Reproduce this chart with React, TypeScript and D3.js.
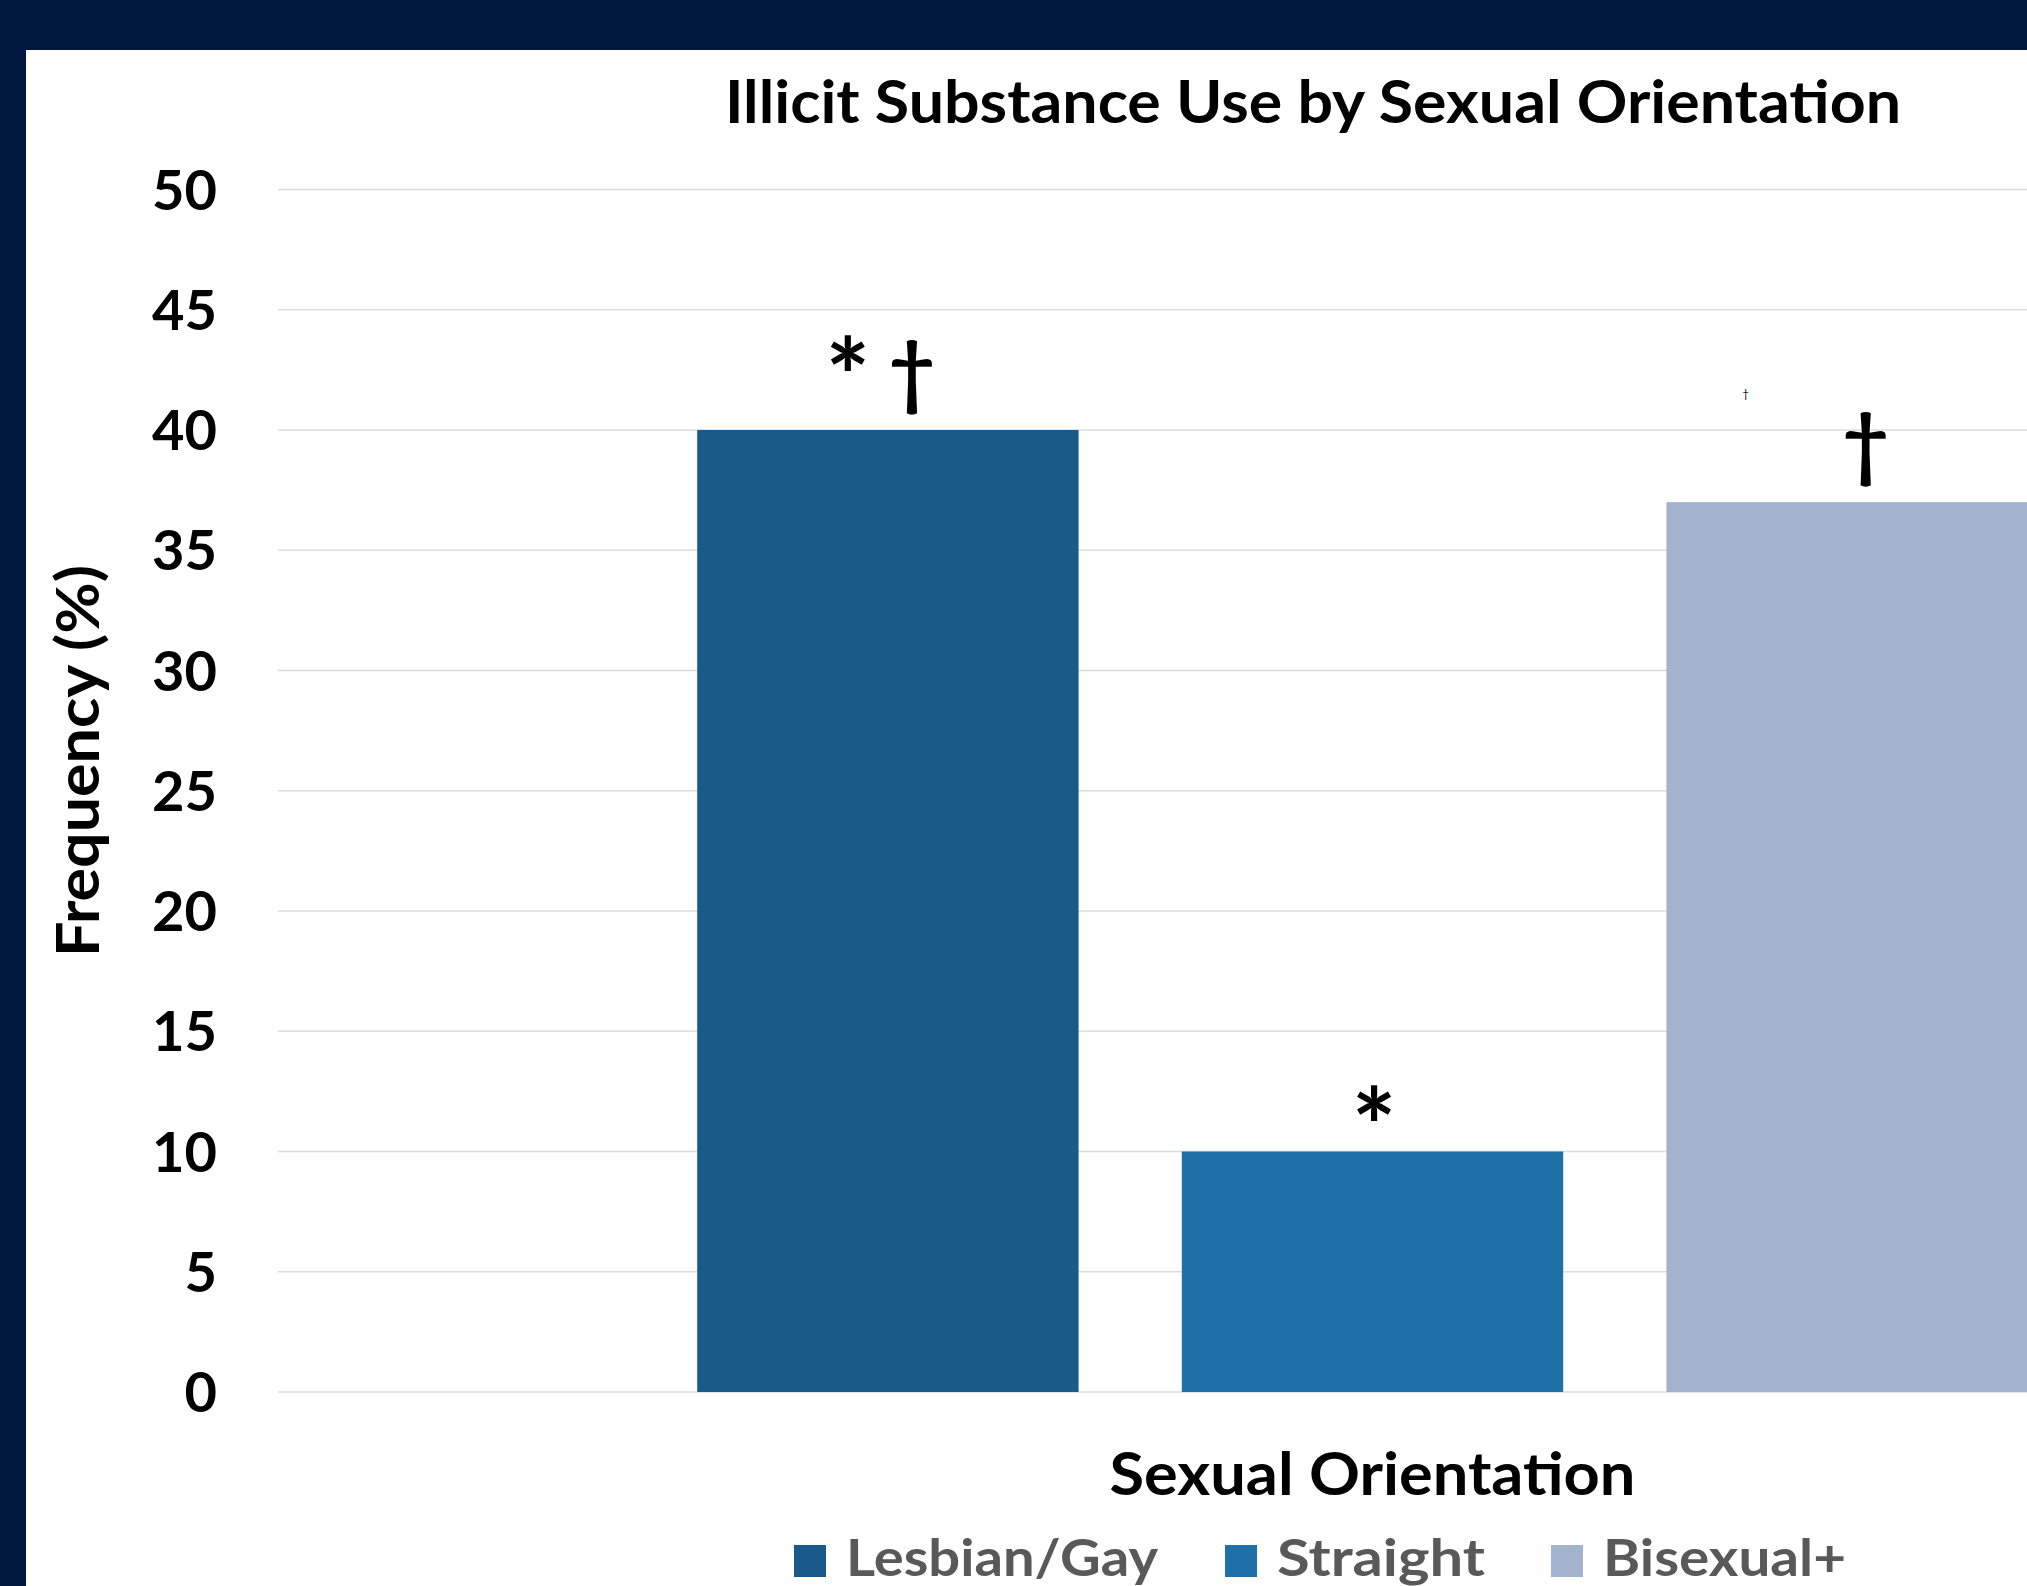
import React from 'react';
import * as d3 from 'd3';

// ---------- data ----------
const chartTitle = 'Illicit Substance Use by Sexual Orientation';
const yAxisTitle = 'Frequency (%)';
const xAxisTitle = 'Sexual Orientation';
const seriesNames = ['Lesbian/Gay', 'Straight', 'Bisexual+'];
const seriesValues = [40, 10, 37];
const yTicks = [0, 5, 10, 15, 20, 25, 30, 35, 40, 45, 50];
const seriesMarks = [['*', '†'], ['*'], ['†']];

// ---------- styles ----------
const W = 2027;
const H = 1586;
const NAVY = '#00173F';
const seriesColors = ['#1A5A8A', '#1F6FA9', '#A3B3CE'];
const FONT = 'Lato, "Open Sans", "DejaVu Sans", sans-serif';
const plot = { left: 278, right: 2467, top: 189.5, bottom: 1392 };
// offsets for the significance marks (dx from bar centre, dy from bar top to glyph baseline)
const markStyle = [
  [{ dx: -40, dy: -15, size: 105 }, { dx: 24, dy: -30, size: 80 }],
  [{ dx: 1.5, dy: 13, size: 105 }],
  [{ dx: 8.5, dy: -30, size: 80 }],
];
const legendStyle = [
  { x: 794, w: 312 },
  { x: 1225, w: 208 },
  { x: 1551, w: 243 },
];

export default function App() {
  const y = d3.scaleLinear().domain([0, 50]).range([plot.bottom, plot.top]);
  const x = d3
    .scaleBand<string>()
    .domain(seriesNames)
    .range([plot.left, plot.right])
    .paddingInner(0.213)
    .paddingOuter(0.865);

  return (
    <svg
      width={W}
      height={H}
      style={{ position: 'absolute', left: 0, top: 0, display: 'block' }}
      fontFamily={FONT}
    >
      <defs>
        <clipPath id="clip">
          <rect x={26} y={50} width={W - 26} height={H - 50} />
        </clipPath>
      </defs>
      <rect x={0} y={0} width={W} height={H} fill={NAVY} />
      <rect x={26} y={50} width={W - 26} height={H - 50} fill="#ffffff" />

      <g clipPath="url(#clip)">
        {/* gridlines */}
        {yTicks.map((t) => (
          <line
            key={'g' + t}
            x1={plot.left}
            x2={plot.right}
            y1={y(t)}
            y2={y(t)}
            stroke="#DCDCDC"
            strokeWidth={1.5}
          />
        ))}
        {/* y tick labels */}
        {yTicks.map((t) => (
          <text
            key={'t' + t}
            x={217}
            y={y(t) + 20}
            textAnchor="end"
            fontSize={56}
            fontWeight={700}
            fill="#000"
          >
            {t}
          </text>
        ))}
        {/* bars */}
        {seriesNames.map((s, i) => (
          <rect
            key={s}
            x={x(s)}
            y={y(seriesValues[i])}
            width={x.bandwidth()}
            height={y(0) - y(seriesValues[i])}
            fill={seriesColors[i]}
          />
        ))}
        {/* marks */}
        {seriesNames.map((s, i) =>
          seriesMarks[i].map((m, j) => {
            const st = markStyle[i][j];
            return (
              <text
                key={s + j}
                x={(x(s) as number) + x.bandwidth() / 2 + st.dx}
                y={y(seriesValues[i]) + st.dy}
                textAnchor="middle"
                fontSize={st.size}
                fontWeight={700}
                fill="#000"
              >
                {m}
              </text>
            );
          })
        )}
        <text
          x={(x('Bisexual+') as number) + x.bandwidth() / 2 - 111.5}
          y={398}
          textAnchor="middle"
          fontSize={11}
          fill="#000"
        >
          †
        </text>

        {/* title */}
        <text
          x={1313}
          y={123}
          textAnchor="middle"
          fontSize={59}
          fontWeight={700}
          textLength={1176}
          lengthAdjust="spacingAndGlyphs"
          fill="#000"
        >
          {chartTitle}
        </text>
        {/* y axis title */}
        <text
          transform={`translate(99, 761) rotate(-90)`}
          textAnchor="middle"
          fontSize={60}
          fontWeight={700}
          textLength={392}
          lengthAdjust="spacingAndGlyphs"
          fill="#000"
        >
          {yAxisTitle}
        </text>
        {/* x axis title */}
        <text
          x={(plot.left + plot.right) / 2}
          y={1495}
          textAnchor="middle"
          fontSize={60}
          fontWeight={700}
          textLength={526}
          lengthAdjust="spacingAndGlyphs"
          fill="#000"
        >
          {xAxisTitle}
        </text>
        {/* legend */}
        {seriesNames.map((s, i) => (
          <g key={'l' + s}>
            <rect x={legendStyle[i].x} y={1545} width={32} height={32} fill={seriesColors[i]} />
            <text
              x={legendStyle[i].x + 52}
              y={1576}
              fontSize={51}
              fontWeight={700}
              textLength={legendStyle[i].w}
              lengthAdjust="spacingAndGlyphs"
              fill="#595959"
            >
              {s}
            </text>
          </g>
        ))}
      </g>
    </svg>
  );
}
